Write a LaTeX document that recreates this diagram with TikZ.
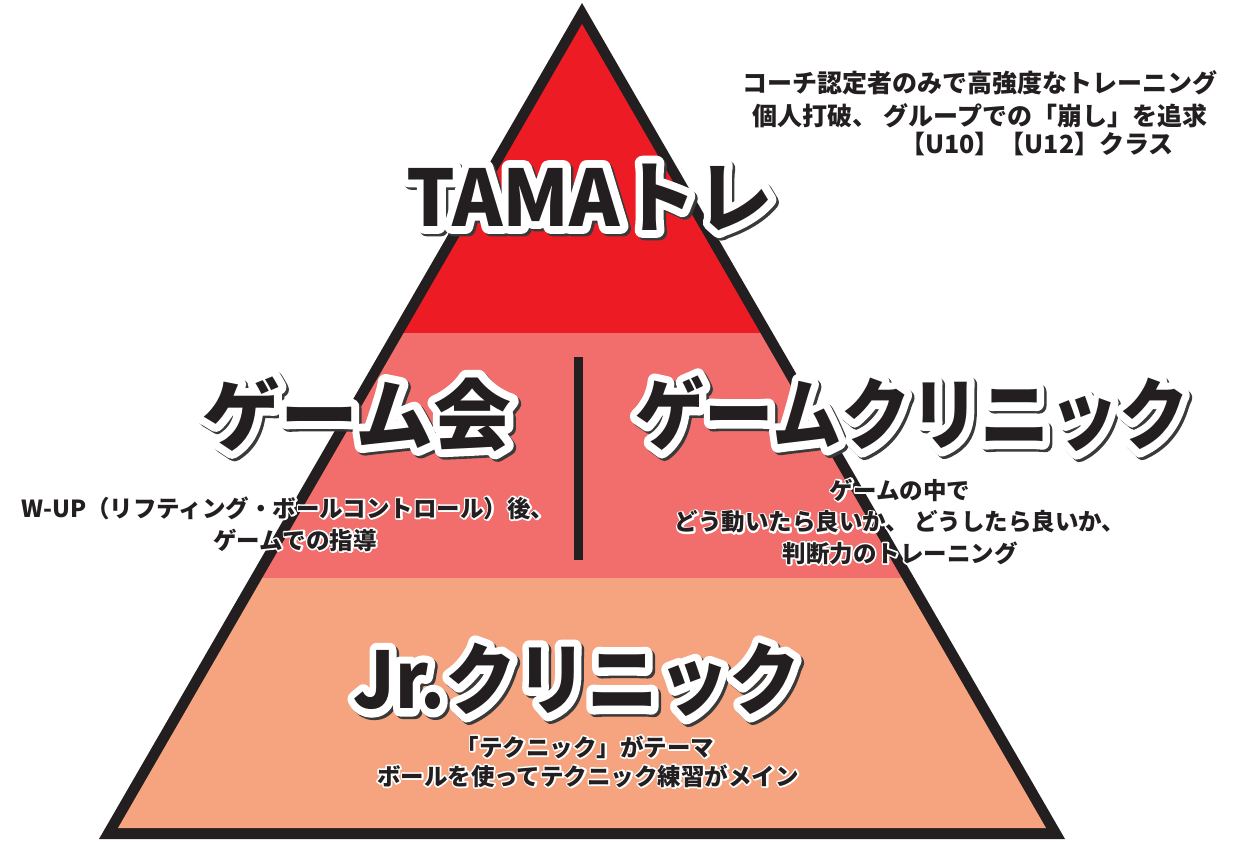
\documentclass[tikz,border=0pt]{standalone}
\usepackage{fontspec}
\setmainfont{Noto Sans CJK JP}
\newfontfamily\strokefont{Noto Sans CJK JP}[BoldFeatures={FakeBold=20}]
\newfontfamily\thinstroke{Noto Sans CJK JP}[BoldFeatures={FakeBold=14}]
\usetikzlibrary{calc}
\definecolor{topred}{HTML}{ED1C24}
\definecolor{midred}{HTML}{F16E6C}
\definecolor{lowsal}{HTML}{F6A47F}
\definecolor{ink}{HTML}{231F20}
\definecolor{shadowgray}{HTML}{3A3A3A}
\tikzset{
  big/.style={font=\bfseries\fontsize{78}{80}\selectfont, text=ink, inner sep=0pt},
  bigstroke/.style={font=\strokefont\bfseries\fontsize{78}{80}\selectfont, inner sep=0pt, line join=round},
  small/.style={font=\bfseries\fontsize{23.5}{26}\selectfont, text=ink, inner sep=0pt},
  smallstroke/.style={font=\thinstroke\bfseries\fontsize{23.5}{26}\selectfont, text=white, inner sep=0pt, line join=round},
  plain/.style={font=\bfseries\fontsize{25}{27}\selectfont, text=ink, inner sep=0pt},
}
\newcommand{\bigtxt}[4]{%
  \node[bigstroke, text=shadowgray, xscale=#4, transform shape] at ($(#2)+(2.5,2.5)$) {#3};
  \node[bigstroke, text=white, xscale=#4, transform shape] at (#2) {#3};
  \node[big, xscale=#4, transform shape] (#1) at (#2) {#3};}
\newcommand{\smalltxt}[3]{%
  \node[smallstroke] at (#2) {#3};
  \node[small] (#1) at (#2) {#3};}
\begin{document}
\begin{tikzpicture}[x=1pt,y=-1pt]
\useasboundingbox (0,0) rectangle (1239,841);
% outer black triangle
\fill[ink] (582,3) -- (99,839) -- (1065,839) -- cycle;
% coloured bands inside
\begin{scope}
  \clip (582,24) -- (118,828) -- (1046,828) -- cycle;
  \fill[topred] (0,0) rectangle (1239,333);
  \fill[midred] (0,333) rectangle (1239,578);
  \fill[lowsal] (0,578) rectangle (1239,841);
\end{scope}
% divider
\draw[ink, line width=9pt] (578.5,357) -- (578.5,560);
% titles
\coordinate (ptama) at (590,197);
\coordinate (pgame) at (357,414);
\coordinate (pclinic) at (912,414);
\coordinate (pjr) at (577,680);
\bigtxt{tama}{ptama}{TAMAトレ}{0.98}
\bigtxt{gamekai}{pgame}{ゲーム会}{1}
\bigtxt{gameclinic}{pclinic}{ゲームクリニック}{0.89}
\bigtxt{jrclinic}{pjr}{Jr.クリニック}{0.91}
% top right notes
\node[plain] (t1) at (980,83) {コーチ認定者のみで高強度なトレーニング};
\node[plain] (t2) at (980,116) {個人打破、 グループでの「崩し」を追求};
\node[plain] (t3) at (1037,144) {【U10】【U12】クラス};
% left notes
\smalltxt{l1}{288,508}{W-UP（リフティング・ボールコントロール）後、}
\smalltxt{l2}{295,540}{ゲームでの指導}
% right notes
\smalltxt{r1}{900,490}{ゲームの中で}
\smalltxt{r2}{900,522}{どう動いたら良いか、 どうしたら良いか、}
\smalltxt{r3}{900,553}{判断力のトレーニング}
% bottom notes
\smalltxt{b1}{585,747}{「テクニック」がテーマ}
\smalltxt{b2}{588,776}{ボールを使ってテクニック練習がメイン}
\end{tikzpicture}
\end{document}
